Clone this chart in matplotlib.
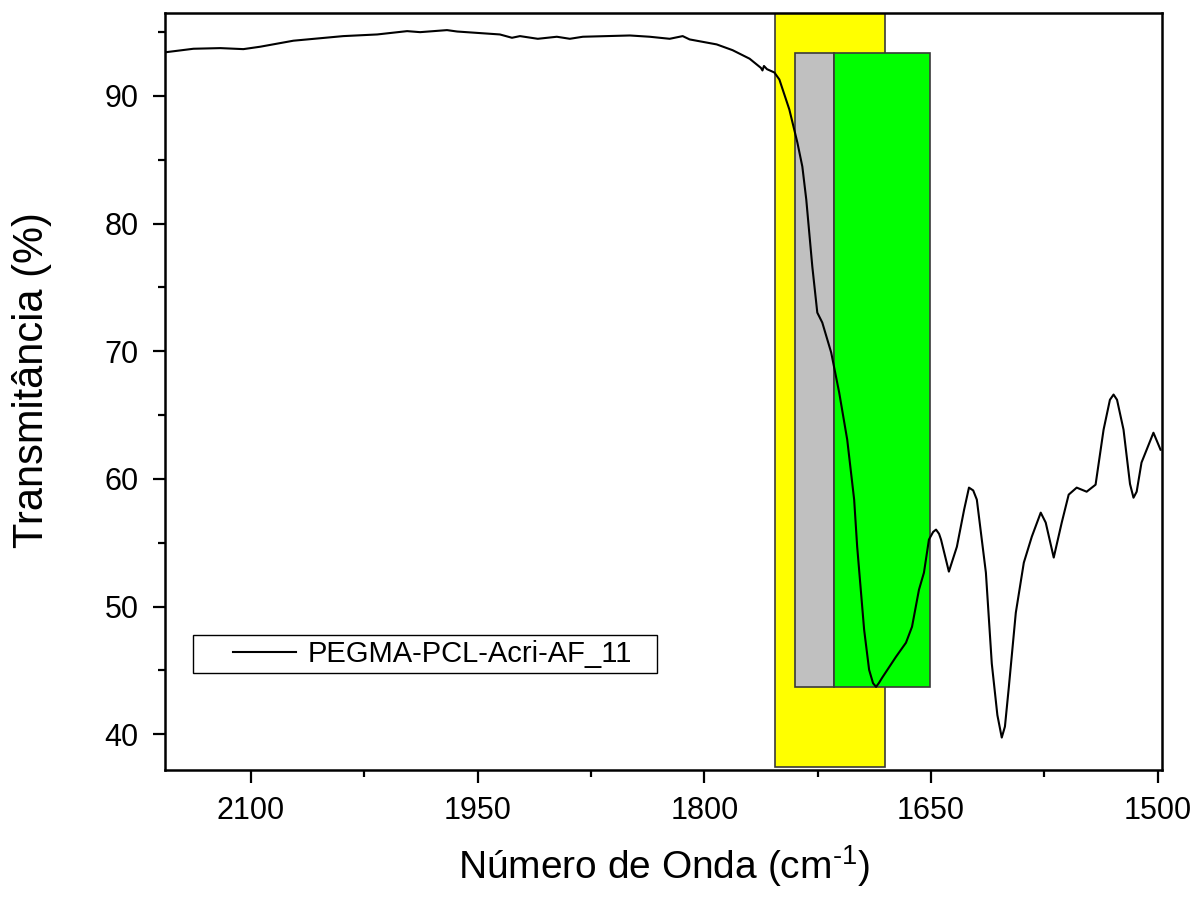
import numpy as np
import matplotlib
matplotlib.use("Agg")
import matplotlib.pyplot as plt
from matplotlib.patches import Rectangle
from matplotlib.legend_handler import HandlerLine2D

plt.rcParams['font.family'] = ['Liberation Sans', 'DejaVu Sans']
plt.rcParams['mathtext.fontset'] = 'custom'
plt.rcParams['mathtext.rm'] = 'Liberation Sans'
plt.rcParams['mathtext.default'] = 'regular'

# espectro (número de onda, transmitância)
wavenumber = [2157.0, 2138.1, 2120.3, 2105.1, 2093.9, 2072.0, 2039.0, 2016.5, 1996.7, 1988.1,
              1970.3, 1963.6, 1935.3, 1927.3, 1922.0, 1910.2, 1897.6, 1889.0, 1880.4, 1849.3,
              1836.1, 1822.9, 1814.3, 1809.7, 1791.8, 1781.3, 1770.0, 1762.5, 1761.5, 1760.5,
              1758.5, 1753.6, 1750.3, 1743.7, 1738.4, 1735.1, 1732.5, 1728.5, 1725.2, 1721.9,
              1716.0, 1710.7, 1705.4, 1700.8, 1698.8, 1694.2, 1690.9, 1688.3, 1686.3, 1684.5,
              1682.3, 1673.1, 1666.5, 1662.5, 1657.9, 1654.6, 1651.3, 1648.5, 1646.6, 1644.6,
              1643.3, 1638.1, 1632.8, 1628.0, 1624.8, 1622.0, 1619.6, 1613.6, 1609.7, 1606.0,
              1603.1, 1601.0, 1598.4, 1593.8, 1588.5, 1583.2, 1577.3, 1574.0, 1568.7, 1563.4,
              1558.8, 1553.5, 1546.9, 1541.0, 1535.7, 1531.5, 1529.1, 1526.8, 1522.5, 1518.2,
              1515.9, 1513.8, 1510.6, 1502.7, 1498.0]
transmittance = [93.42, 93.70, 93.75, 93.67, 93.86, 94.33, 94.69, 94.82, 95.08, 95.00,
                 95.16, 95.05, 94.82, 94.56, 94.69, 94.48, 94.64, 94.48, 94.64, 94.74,
                 94.64, 94.48, 94.69, 94.43, 94.04, 93.59, 92.92, 92.20, 92.00, 92.35,
                 92.10, 91.84, 91.29, 88.94, 86.36, 84.47, 81.89, 76.64, 73.03, 72.25,
                 69.90, 66.76, 63.08, 58.38, 54.69, 48.19, 45.05, 44.00, 43.71, 44.00,
                 44.42, 46.07, 47.17, 48.42, 51.32, 52.66, 55.25, 55.85, 56.03, 55.70,
                 55.25, 52.74, 54.69, 57.60, 59.32, 59.10, 58.38, 52.66, 45.54, 41.50,
                 39.74, 40.60, 43.71, 49.52, 53.44, 55.48, 57.36, 56.58, 53.84, 56.58,
                 58.77, 59.32, 59.00, 59.55, 63.86, 66.20, 66.61, 66.20, 63.86, 59.60,
                 58.53, 59.00, 61.28, 63.62, 62.29]
label = 'PEGMA-PCL-Acri-AF_11'

# regiões destacadas (limites em cm-1 e %)
band_low = [1680.2, 1714.1, 1650.5]
band_high = [1752.9, 1739.7, 1714.1]
band_bottom = [37.45, 43.72, 43.72]
band_top = [100.0, 93.35, 93.35]
band_colors = ['#FFFF00', '#C0C0C0', '#00FF00']


class PaddedLine(HandlerLine2D):
    # deixa um espaço antes da linha, como no original
    def get_xdata(self, legend, xdescent, ydescent, width, height, fontsize):
        xdata, xm = super().get_xdata(legend, xdescent, ydescent, width, height, fontsize)
        lead = 0.36 * width
        return [xdata[0] + lead, xdata[1]], xm


fig = plt.figure(figsize=(11.97, 8.97), dpi=100)
ax = fig.add_axes([0.1378, 0.1416, 0.8330, 0.8439])

for lo, hi, bot, top, col in zip(band_low, band_high, band_bottom, band_top, band_colors):
    ax.add_patch(Rectangle((lo, bot), hi - lo, top - bot, facecolor=col,
                           edgecolor='#3a3a3a', linewidth=1.2, zorder=1))

line, = ax.plot(wavenumber, transmittance, color='black', lw=1.5, zorder=3, label=label)

ax.set_xlim(2157, 1497)
ax.set_ylim(37.2, 96.5)
ax.set_xticks([2100, 1950, 1800, 1650, 1500])
ax.set_xticks([2025, 1875, 1725, 1575], minor=True)
ax.set_yticks([40, 50, 60, 70, 80, 90])
ax.set_yticks([45, 55, 65, 75, 85, 95], minor=True)

for s in ax.spines.values():
    s.set_linewidth(1.8)
ax.tick_params(which='major', direction='out', length=9, width=1.6, labelsize=22, pad=10)
ax.tick_params(which='minor', direction='out', length=5, width=1.6)

ax.set_xlabel('Número de Onda (cm$^{\u2010 1}$)', fontsize=28, labelpad=12)
ax.set_ylabel('Transmitância (%)', fontsize=30)
ax.yaxis.set_label_coords(-0.1134, 0.515)

leg = ax.legend(handles=[line], loc='lower left', bbox_to_anchor=(0.028, 0.128, 0.4654, 0.05),
                mode='expand', fontsize=21, frameon=True, fancybox=False, framealpha=1,
                edgecolor='black', borderpad=0.18, borderaxespad=0, handlelength=3.35,
                handletextpad=0.42, handler_map={line: PaddedLine()})
leg.get_frame().set_linewidth(1.0)
leg.set_zorder(5)

fig.savefig('out.png', dpi=100)
